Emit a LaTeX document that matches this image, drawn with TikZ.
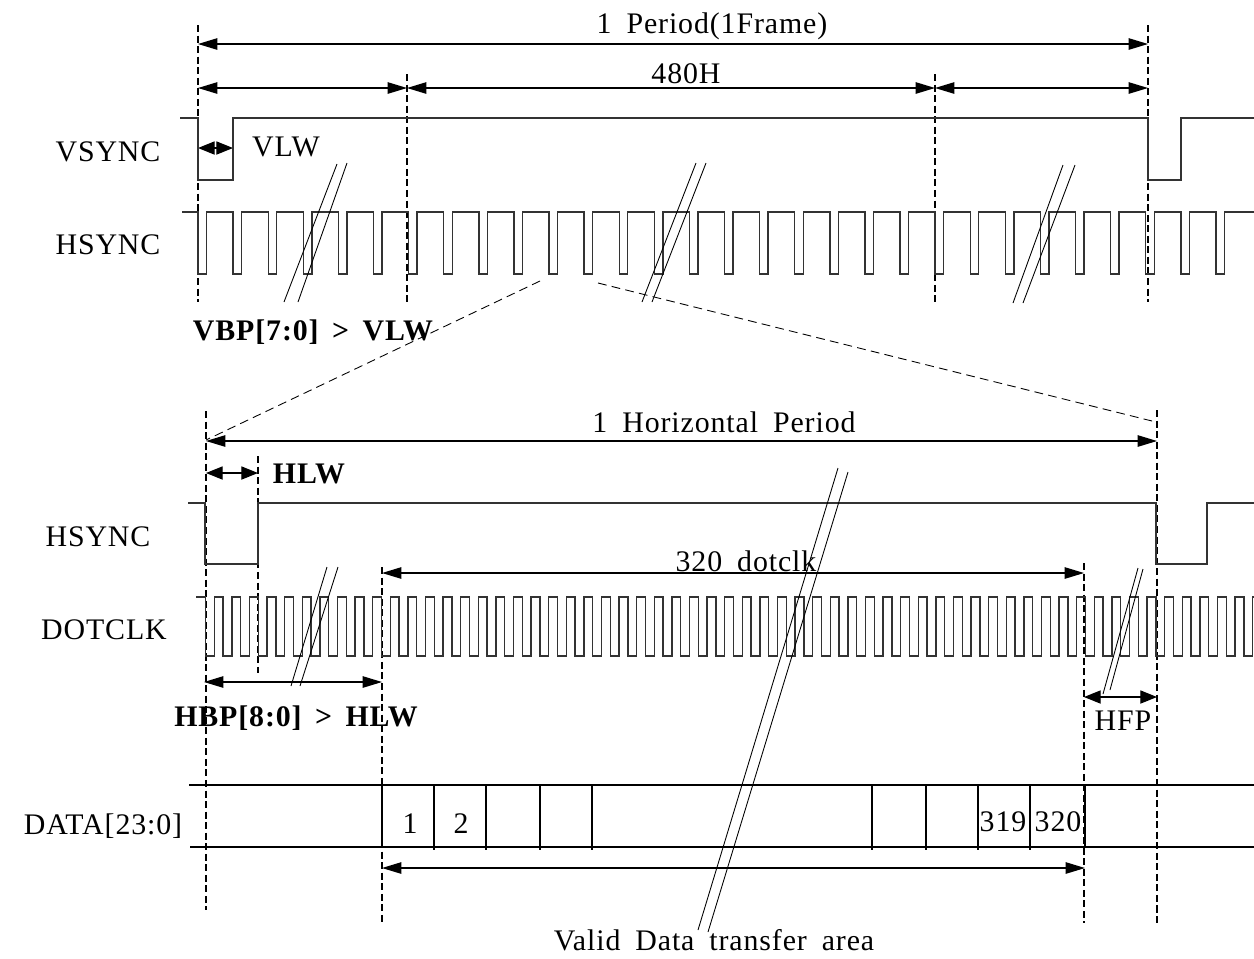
\documentclass[tikz,border=0pt]{standalone}
\usepackage{fontspec}
\setmainfont{Liberation Serif}[LetterSpace=3]
\usetikzlibrary{arrows.meta}
\newcommand{\lblfont}{\fontsize{17}{20}\selectfont\spaceskip=0.5em\relax}
\newcommand{\boldlblfont}{\fontsize{17}{20}\selectfont\bfseries\spaceskip=0.45em\relax}
\begin{document}
\begin{tikzpicture}[x=0.02cm, y=-0.02cm, >={Triangle[length=11pt,width=6.5pt]}]
    \tikzstyle{signal} = [line width=0.8pt, color=black!80]
    \tikzstyle{marker} = [dash pattern=on 4pt off 2pt, line width=0.6pt]
    \tikzstyle{zoomline} = [dash pattern=on 5pt off 3pt, line width=0.5pt]
    \tikzstyle{dim} = [<->, line width=0.7pt]
    \tikzstyle{shortdim} = [{Triangle[length=9.5pt,width=7.5pt]}-{Triangle[length=9.5pt,width=7.5pt]}, line width=0.7pt]
    \tikzstyle{brk} = [line width=0.5pt]
    \tikzstyle{lbl} = [inner sep=0pt, font=\lblfont]
    \tikzstyle{boldlbl} = [inner sep=0pt, font=\boldlblfont]
    \useasboundingbox (0,0) rectangle (1254,958);

    \draw[marker] (198,25) -- (198,302);
    \draw[marker] (407,74) -- (407,302);
    \draw[marker] (935,74) -- (935,302);
    \draw[marker] (1148,25) -- (1148,302);

    \coordinate (fL) at (198,44);
    \coordinate (fR) at (1148,44);
    \coordinate (vA) at (198,88);
    \coordinate (vB) at (407,88);
    \coordinate (vC) at (935,88);
    \coordinate (vD) at (1148,88);
    \coordinate (vlwL) at (198,148);
    \coordinate (vlwR) at (233,148);
    \draw[dim] (fL) -- (fR);
    \draw[dim] (vA) -- (vB);
    \draw[dim] (vB) -- (vC);
    \draw[dim] (vC) -- (vD);
    \draw[shortdim] (vlwL) -- (vlwR);
    \node[lbl] (frame) at (712,26) {1 Period(1Frame)};
    \node[lbl] (lines) at (686,74) {480H};
    \node[lbl] (vlw) at (286,147) {VLW};
    \node[lbl] (vsync) at (108,152) {VSYNC};
    \node[lbl] (hsynctop) at (108,245) {HSYNC};
    \node[boldlbl] (vbp) at (313,332) {VBP[7:0] > VLW};

    \draw[signal] (180,118) -- (198,118) -- (198,180) -- (233,180) -- (233,118)
        -- (1148,118) -- (1148,180) -- (1181,180) -- (1181,118) -- (1254,118);
    \draw[signal] (182,212) \foreach \k in {0,...,29} {
        -- ({198+35.1*\k},212) -- ({198+35.1*\k},274)
        -- ({206.5+35.1*\k},274) -- ({206.5+35.1*\k},212)} -- (1254,212);

    \draw[brk] (337,164) -- (284,302);
    \draw[brk] (347,163) -- (298,302);
    \draw[brk] (696,163) -- (642,302);
    \draw[brk] (706,163) -- (652,302);
    \draw[brk] (1063,165) -- (1013,303);
    \draw[brk] (1075,165) -- (1023,303);

    \draw[zoomline] (540,281) -- (206,440);
    \draw[zoomline] (598,283) -- (1156,422);

    \draw[marker] (206,411) -- (206,910);
    \draw[marker] (258,456) -- (258,673);
    \draw[marker] (382,567) -- (382,923);
    \draw[marker] (1084,563) -- (1084,923);
    \draw[marker] (1157,410) -- (1157,923);

    \coordinate (hL) at (206,441);
    \coordinate (hR) at (1157,441);
    \coordinate (hlwL) at (206,473);
    \coordinate (hlwR) at (258,473);
    \coordinate (dotL) at (382,573);
    \coordinate (dotR) at (1084,573);
    \coordinate (hbpL) at (204,682);
    \coordinate (hbpR) at (382,682);
    \coordinate (hfpL) at (1084,697);
    \coordinate (hfpR) at (1157,697);
    \coordinate (validL) at (382,868);
    \coordinate (validR) at (1085,868);
    \draw[dim] (hL) -- (hR);
    \draw[shortdim] (hlwL) -- (hlwR);
    \draw[dim] (dotL) -- (dotR);
    \draw[dim] (hbpL) -- (hbpR);
    \draw[shortdim] (hfpL) -- (hfpR);
    \draw[dim] (validL) -- (validR);
    \node[lbl] (hperiod) at (724,422) {1 Horizontal Period};
    \node[boldlbl] (hlw) at (309,474) {HLW};
    \node[lbl] (hsync) at (98,537) {HSYNC};
    \node[lbl] (dots) at (746,561) {320 dotclk};
    \node[lbl] (dotclk) at (104,630) {DOTCLK};
    \node[boldlbl] (hbp) at (296,718) {HBP[8:0] > HLW};
    \node[lbl] (hfp) at (1123,721) {HFP};
    \node[lbl] (data) at (103,826) {DATA[23:0]};
    \node[lbl] (valid) at (714,940) {Valid Data transfer area};

    \draw[signal] (188,503) -- (205,503) -- (205,564) -- (258,564) -- (258,503)
        -- (1156,503) -- (1156,564) -- (1207,564) -- (1207,503) -- (1254,503);
    \draw[signal] (196,597) \foreach \k in {0,...,59} {
        -- ({205.5+17.6*\k},597) -- ({205.5+17.6*\k},656)
        -- ({214.3+17.6*\k},656) -- ({214.3+17.6*\k},597)} -- (1254,597);

    \draw[line width=0.7pt] (189,785) -- (1254,785);
    \draw[line width=0.7pt] (190,847) -- (1254,847);
    \draw[line width=1pt] (382,785) -- (382,847);
    \draw[line width=1pt] (1085,785) -- (1085,847);
    \foreach \x in {434, 486, 540, 592, 872, 926, 978, 1030} {
        \draw[line width=0.6pt] (\x,785) -- (\x,850);
    }
    \node[lbl] (d1) at (410,824) {1};
    \node[lbl] (d2) at (461,824) {2};
    \node[lbl] (d319) at (1003,822) {319};
    \node[lbl] (d320) at (1058,822) {320};

    \draw[brk] (327,567) -- (291,686);
    \draw[brk] (338,567) -- (300,686);
    \draw[brk] (838,468) -- (698,930);
    \draw[brk] (848,472) -- (708,932);
    \draw[brk] (1138,568) -- (1103,694);
    \draw[brk] (1143,569) -- (1110,690);
\end{tikzpicture}
\end{document}
